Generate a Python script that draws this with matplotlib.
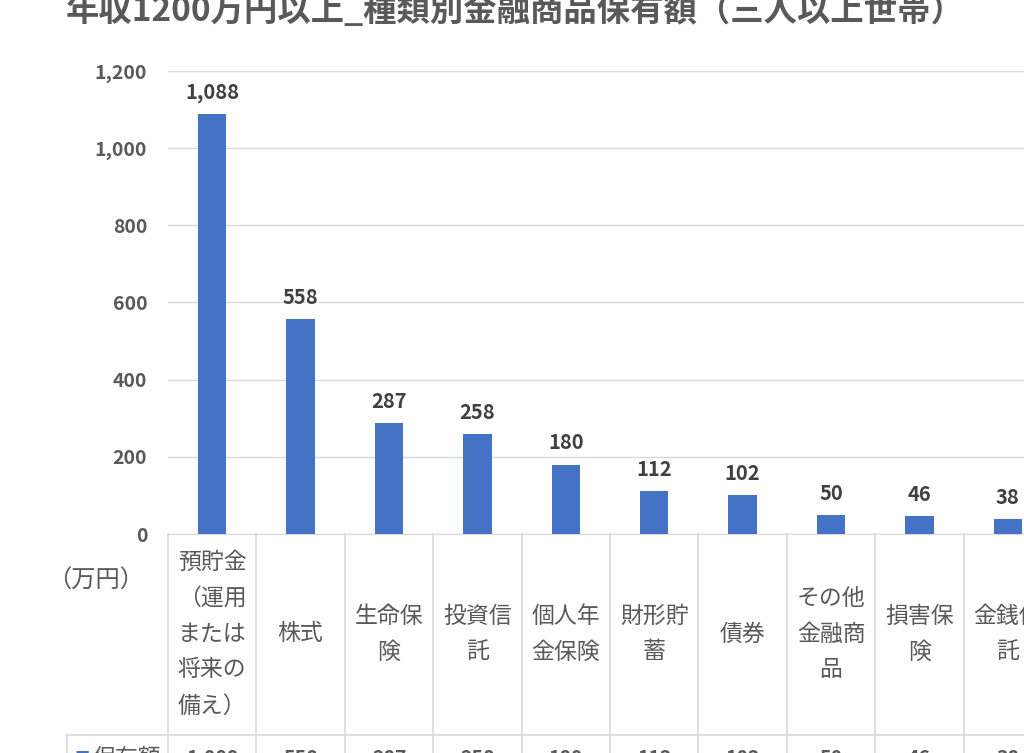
import matplotlib
matplotlib.use("Agg")
import matplotlib.pyplot as plt
import matplotlib.transforms as mtransforms

plt.rcParams['font.family'] = ['Noto Sans CJK JP', 'DejaVu Sans']

# data
categories = ["預貯金\n（運用\nまたは\n将来の\n備え）", "株式", "生命保\n険", "投資信\n託",
              "個人年\n金保険", "財形貯\n蓄", "債券", "その他\n金融商\n品", "損害保\n険", "金銭信\n託"]
values = [1088, 558, 287, 258, 180, 112, 102, 50, 46, 38]
series_name = "保有額"
title = "年収1200万円以上_種類別金融商品保有額（三人以上世帯）"

bar_color = "#4472C4"
grid_color = "#D9D9D9"
text_color = "#595959"

W, H = 1024, 753
fig = plt.figure(figsize=(W / 100, H / 100), dpi=100)
ax = fig.add_axes([168 / W, (H - 534) / H, 884 / W, 463 / H])

x = list(range(len(values)))
ax.bar(x, values, width=0.32, color=bar_color, zorder=3)
ax.set_xlim(-0.5, len(values) - 0.5)
ax.set_ylim(0, 1200)
ax.set_yticks(range(0, 1201, 200))
ax.set_yticklabels([f"{v:,}" for v in range(0, 1201, 200)])
ax.tick_params(axis='y', length=0, pad=15, labelsize=14, labelcolor=text_color)
for lab in ax.get_yticklabels():
    lab.set_fontweight('bold')
ax.set_xticks([])
ax.grid(axis='y', color=grid_color, lw=1, zorder=0)
for s in ['left', 'right', 'top']:
    ax.spines[s].set_visible(False)
ax.spines['bottom'].set_color(grid_color)

# value labels
for xi, v in zip(x, values):
    ax.annotate(f"{v:,}", (xi, v), xytext=(0, 8), textcoords='offset points',
                ha='center', va='bottom', fontsize=14.5, fontweight='bold', color="#404040")

# data table
tr = mtransforms.blended_transform_factory(ax.transData, ax.transAxes)
row1 = (534 - 735) / 463
bottom = -0.7
left_edge = -0.5 - (168 - 67) / 88.4
for i in range(len(values) + 1):
    ax.plot([i - 0.5, i - 0.5], [0, bottom], transform=tr, color=grid_color, lw=1.2, clip_on=False)
ax.plot([left_edge, len(values) - 0.5], [row1, row1], transform=tr, color=grid_color, lw=1.2, clip_on=False)
ax.plot([left_edge, left_edge], [row1, bottom], transform=tr, color=grid_color, lw=1.2, clip_on=False)

for xi, c, v in zip(x, categories, values):
    ax.text(xi, (534 - 634) / 463, c, transform=tr, ha='center', va='center',
            fontsize=16.5, color=text_color, linespacing=1.72, clip_on=False)
    ax.text(xi, -0.485, f"{v:,}", transform=tr, ha='center', va='center',
            fontsize=14, fontweight='bold', color=text_color, clip_on=False)

ax.text(-0.5 - (168 - 74) / 88.4, -0.485, "■", transform=tr, ha='left', va='center',
        fontsize=11, color=bar_color, clip_on=False)
ax.text(-0.5 - (168 - 92) / 88.4, -0.485, series_name, transform=tr, ha='left', va='center',
        fontsize=16.5, color=text_color, clip_on=False)
ax.text(-0.5 - (168 - 96) / 88.4, (534 - 581) / 463, "（万円）", transform=tr, ha='center', va='center',
        fontsize=17.5, color=text_color, clip_on=False)

fig.text(515 / W, (H - 21) / H, title, ha='center', va='baseline', fontsize=24,
         fontweight='bold', color=text_color)

fig.savefig("out.png", dpi=100)
